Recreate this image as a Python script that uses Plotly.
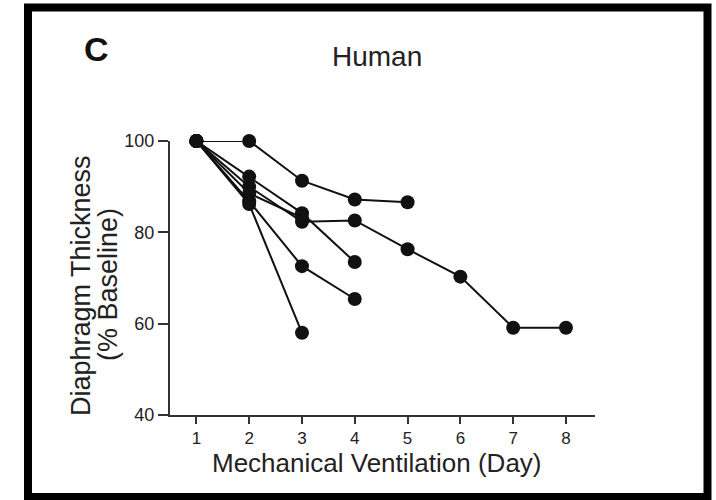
import plotly.graph_objects as go

# Data: diaphragm thickness (% baseline) per patient by day of mechanical ventilation
patient_a_days = [1, 2, 3, 4, 5]
patient_a_vals = [100, 100, 91.3, 87.2, 86.6]
patient_b_days = [1, 2, 3, 4, 5, 6, 7, 8]
patient_b_vals = [100, 90.0, 82.3, 82.6, 76.3, 70.3, 59.1, 59.1]
patient_c_days = [1, 2, 3, 4]
patient_c_vals = [100, 92.2, 84.2, 73.5]
patient_d_days = [1, 2, 3]
patient_d_vals = [100, 88.5, 83.2]
patient_e_days = [1, 2, 3, 4]
patient_e_vals = [100, 86.8, 72.6, 65.4]
patient_f_days = [1, 2, 3]
patient_f_vals = [100, 86.2, 58.0]

x_ticks = [1, 2, 3, 4, 5, 6, 7, 8]
y_ticks = [40, 60, 80, 100]

series = [
    (patient_a_days, patient_a_vals),
    (patient_b_days, patient_b_vals),
    (patient_c_days, patient_c_vals),
    (patient_d_days, patient_d_vals),
    (patient_e_days, patient_e_vals),
    (patient_f_days, patient_f_vals),
]

FONT = "Liberation Sans, Arial, sans-serif"
TXT = "#222222"

fig = go.Figure()
for days, vals in series:
    fig.add_trace(go.Scatter(
        x=days, y=vals, mode="lines+markers",
        line=dict(color="#111111", width=2),
        marker=dict(color="#111111", size=14),
        cliponaxis=False, showlegend=False, hoverinfo="skip",
    ))

L, R, T, B = 170, 121, 141, 85
W, H = 716, 500
pw, ph = W - L - R, H - T - B


def px(x):
    return (x - L) / pw


def py(y):
    return (H - B - y) / ph


fig.update_layout(
    width=W, height=H,
    margin=dict(l=L, r=R, t=T, b=B, pad=0),
    paper_bgcolor="white", plot_bgcolor="white",
    font=dict(family=FONT, color=TXT),
    xaxis=dict(
        range=[0.5, 8.55], tickmode="array", tickvals=x_ticks,
        ticktext=[str(v) for v in x_ticks],
        showgrid=False, zeroline=False, showline=True,
        linecolor="#333333", linewidth=2,
        ticks="outside", ticklen=7, tickwidth=2, tickcolor="#333333",
        tickfont=dict(size=17, family=FONT, color=TXT),
    ),
    yaxis=dict(
        range=[40, 100], tickmode="array", tickvals=y_ticks,
        showgrid=False, zeroline=False, showline=True,
        linecolor="#333333", linewidth=2,
        ticks="outside", ticklen=10, tickwidth=2, tickcolor="#333333",
        tickfont=dict(size=18, family=FONT, color=TXT),
    ),
    shapes=[dict(
        type="rect", xref="paper", yref="paper",
        x0=px(28), x1=px(707.5), y0=py(497), y1=py(7.5),
        line=dict(color="black", width=8), fillcolor="rgba(0,0,0,0)",
        layer="above",
    )],
    annotations=[
        dict(text="<b>C</b>", xref="paper", yref="paper", x=px(96), y=py(49),
             xanchor="center", yanchor="middle", showarrow=False,
             font=dict(size=34, family=FONT, color="#111111")),
        dict(text="Human", xref="paper", yref="paper", x=px(377), y=py(57),
             xanchor="center", yanchor="middle", showarrow=False,
             font=dict(size=28, family=FONT, color=TXT)),
        dict(text="Mechanical Ventilation (Day)", xref="paper", yref="paper",
             x=px(377), y=py(463), xanchor="center", yanchor="middle",
             showarrow=False, font=dict(size=26, family=FONT, color=TXT)),
        dict(text="Diaphragm Thickness", xref="paper", yref="paper",
             x=px(81), y=py(286), xanchor="center", yanchor="middle",
             textangle=-90, showarrow=False,
             font=dict(size=27, family=FONT, color=TXT)),
        dict(text="(% Baseline)", xref="paper", yref="paper",
             x=px(108), y=py(285), xanchor="center", yanchor="middle",
             textangle=-90, showarrow=False,
             font=dict(size=27, family=FONT, color=TXT)),
    ],
)

fig.write_html("out.html")
